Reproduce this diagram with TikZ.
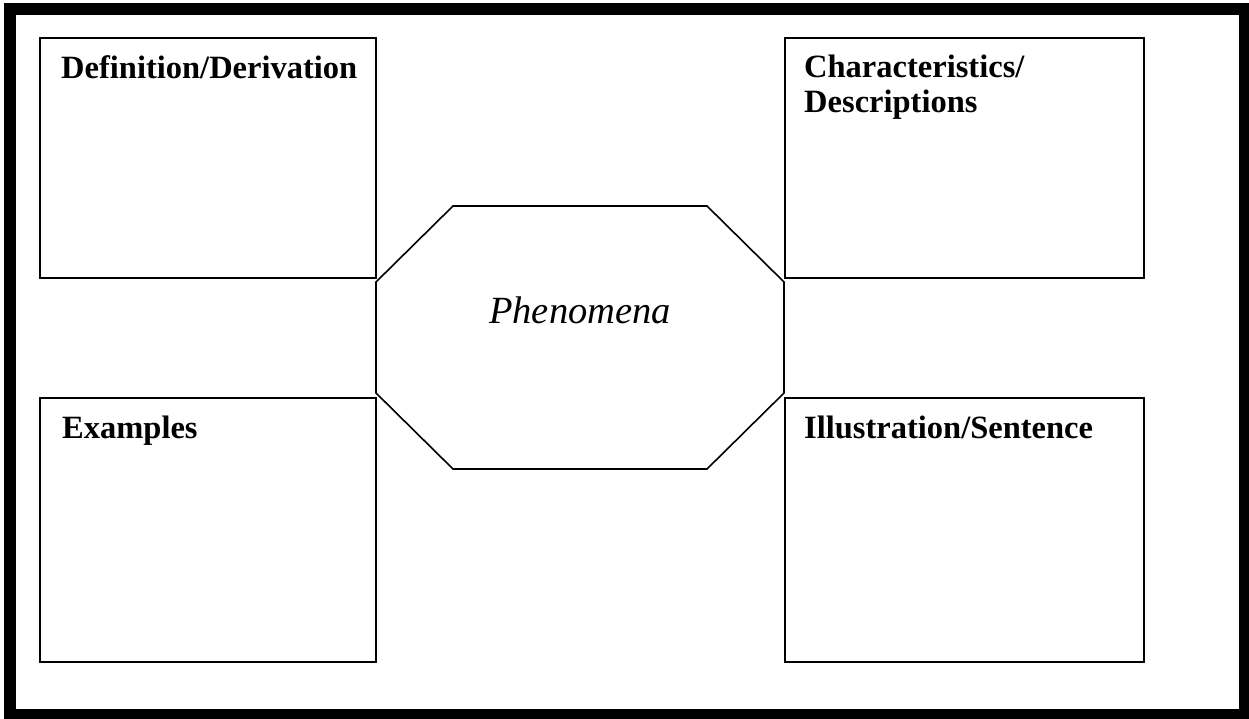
\documentclass[tikz,border=0pt]{standalone}
\usepackage{fontspec}
\setmainfont{Liberation Serif}
\begin{document}
\begin{tikzpicture}[x=1pt,y=-1pt,
  boxline/.style={draw=black,line width=1.6pt},
  lbl/.style={anchor=base west,inner sep=0pt,font=\fontsize{32.5}{35}\selectfont\bfseries,align=left},
  center/.style={anchor=base,inner sep=0pt,font=\fontsize{38.5}{40}\selectfont\itshape}]
\useasboundingbox (0,0) rectangle (1249,719);
\fill[white] (0,0) rectangle (1249,719);
% outer frame
\draw[line width=11.5pt] (10,9) rectangle (1245,715);
% four boxes
\draw[boxline] (40,38) rectangle (376,278);
\draw[boxline] (785,38) rectangle (1144,278);
\draw[boxline] (40,398) rectangle (376,662);
\draw[boxline] (785,398) rectangle (1144,662);
% octagon
\draw[boxline,line join=miter] (453,206) -- (707,206) -- (784,282) -- (784,393) -- (707,469) -- (453,469) -- (376,393) -- (376,282) -- cycle;
% texts
\node[lbl] (def) at (61,79) {Definition/Derivation};
\node[lbl] (char) at (804,113) {Characteristics/\\Descriptions};
\node[lbl] (ex) at (62,438) {Examples};
\node[lbl] (ill) at (804,438) {Illustration/Sentence};
\node[center] (phen) at (580,323) {Phenomena};
\end{tikzpicture}
\end{document}
